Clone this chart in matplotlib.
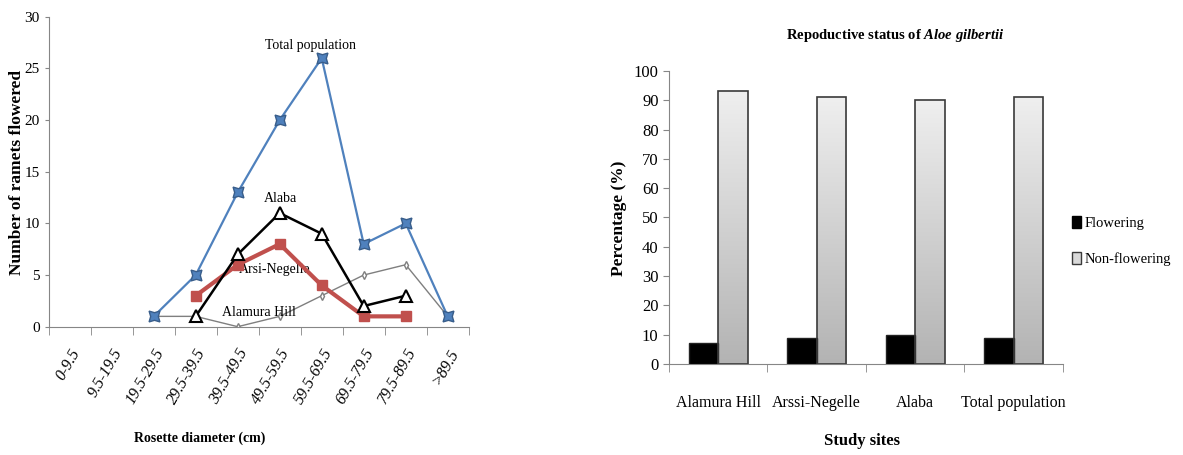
import numpy as np
import matplotlib.pyplot as plt
from matplotlib.colors import LinearSegmentedColormap
from matplotlib.patches import Patch

plt.rcParams['font.family'] = ['Liberation Serif', 'DejaVu Serif']
plt.rcParams['mathtext.fontset'] = 'custom'
plt.rcParams['mathtext.rm'] = 'Liberation Serif:bold'
plt.rcParams['mathtext.it'] = 'Liberation Serif:italic:bold'

# rosette diameter classes (cm)
size_classes = ['0-9.5', '9.5-19.5', '19.5-29.5', '29.5-39.5', '39.5-49.5',
                '49.5-59.5', '59.5-69.5', '69.5-79.5', '79.5-89.5', '>89.5']
nan = np.nan
total_pop = [nan, nan, 1, 5, 13, 20, 26, 8, 10, 1]
alaba = [nan, nan, nan, 1, 7, 11, 9, 2, 3, nan]
arsi_negelle = [nan, nan, nan, 3, 6, 8, 4, 1, 1, nan]
alamura_hill = [nan, nan, 1, 1, 0, 1, 3, 5, 6, 1]

# reproductive status by site (%)
sites = ['Alamura Hill', 'Arssi-Negelle', 'Alaba', 'Total population']
flowering = [7, 9, 10, 9]
non_flowering = [93, 91, 90, 91]

fig = plt.figure(figsize=(11.83, 4.55), dpi=100)
spine_col = '#868686'

# ---- left: flowering ramets by rosette diameter ----
ax1 = fig.add_axes([0.0412, 0.282, 0.355, 0.681])
x = np.arange(len(size_classes))
ax1.plot(x, alamura_hill, color='#7f7f7f', lw=1.0, marker='d', ms=4,
         mfc='white', mec='#7f7f7f', zorder=2)
ax1.plot(x, total_pop, color='#4F81BD', lw=1.6, marker=(4, 1, 45), ms=11,
         mfc='#4F81BD', mec='#385D8A', zorder=3)
ax1.plot(x, arsi_negelle, color='#C0504D', lw=3.0, marker='s', ms=7,
         mfc='#C0504D', mec='#C0504D', zorder=4)
ax1.plot(x, alaba, color='black', lw=1.8, marker='^', ms=8,
         mfc='white', mec='black', mew=1.5, zorder=5)

ax1.text(5.74, 27.2, 'Total population', ha='center', va='center', fontsize=10)
ax1.text(5.02, 12.4, 'Alaba', ha='center', va='center', fontsize=10)
ax1.text(4.88, 5.5, 'Arsi-Negelle', ha='center', va='center', fontsize=10)
ax1.text(4.5, 1.35, 'Alamura Hill', ha='center', va='center', fontsize=10)

ax1.set_xlim(-0.5, len(size_classes) - 0.5)
ax1.set_ylim(0, 30)
ax1.set_yticks(range(0, 31, 5))
ax1.set_xticks(x)
ax1.set_xticklabels(size_classes, rotation=60, ha='right', va='top',
                    rotation_mode='anchor', fontstyle='italic', fontsize=11.5)
ax1.set_xticks(np.arange(-0.5, len(size_classes)), minor=True)
ax1.tick_params(axis='x', which='major', length=0, pad=14)
ax1.tick_params(axis='x', which='minor', length=6, direction='out', color=spine_col)
ax1.tick_params(axis='y', length=3, color=spine_col, labelsize=11)
for s in ['top', 'right']:
    ax1.spines[s].set_visible(False)
for s in ['left', 'bottom']:
    ax1.spines[s].set_color(spine_col)
fig.text(17 / 1183, 1 - 172 / 455, 'Number of ramets flowered', rotation=90,
         ha='center', va='center', fontsize=12.5, fontweight='bold')
fig.text(200 / 1183, 1 - 438 / 455, 'Rosette diameter (cm)', ha='center',
         va='center', fontsize=10, fontweight='bold')

# ---- right: reproductive status ----
ax2 = fig.add_axes([0.5655, 0.2, 0.333, 0.644])
pos = np.arange(len(sites))
w = 0.30
ax2.bar(pos - w / 2, flowering, w, color='black', edgecolor='#222222', lw=1, zorder=3)
bars = ax2.bar(pos + w / 2, non_flowering, w, facecolor='none',
               edgecolor='#3a3a3a', lw=1.2, zorder=4)
grey_grad = LinearSegmentedColormap.from_list('gg', ['#b3b3b3', '#efefef'])
grad = np.linspace(0, 1, 256).reshape(-1, 1)
for b in bars:
    x0, h = b.get_x(), b.get_height()
    ax2.imshow(grad, cmap=grey_grad, origin='lower', aspect='auto',
               extent=[x0, x0 + b.get_width(), 0, h], zorder=2)

ax2.set_xlim(-0.5, len(sites) - 0.5)
ax2.set_ylim(0, 100)
ax2.set_yticks(range(0, 101, 10))
ax2.set_xticks(pos)
ax2.set_xticklabels(sites, fontsize=11.5)
ax2.set_xticks(np.arange(-0.5, len(sites)), minor=True)
ax2.tick_params(axis='x', which='major', length=0, pad=22)
ax2.tick_params(axis='x', which='minor', length=6, direction='out', color=spine_col)
ax2.tick_params(axis='y', length=4, color=spine_col, labelsize=12)
for s in ['top', 'right']:
    ax2.spines[s].set_visible(False)
for s in ['left', 'bottom']:
    ax2.spines[s].set_color(spine_col)

fig.text(895 / 1183, 1 - 35 / 455,
         r'Repoductive status of $\mathit{Aloe\ gilbertii}$',
         ha='center', va='center', fontsize=10.5, fontweight='bold')
fig.text(619 / 1183, 1 - 218 / 455, 'Percentage (%)', rotation=90,
         ha='center', va='center', fontsize=12.5, fontweight='bold')
fig.text(862 / 1183, 1 - 441 / 455, 'Study sites', ha='center', va='center',
         fontsize=12, fontweight='bold')

handles = [Patch(facecolor='black', edgecolor='black'),
           Patch(facecolor='#d9d9d9', edgecolor='#3a3a3a')]
fig.legend(handles, ['Flowering', 'Non-flowering'], loc='center left',
           bbox_to_anchor=(1062 / 1183, 1 - 241 / 455), frameon=False,
           fontsize=10.5, handlelength=0.6, handleheight=0.9, handletextpad=0.25,
           labelspacing=1.5, borderpad=0.2)

fig.savefig('out.png', dpi=100)
